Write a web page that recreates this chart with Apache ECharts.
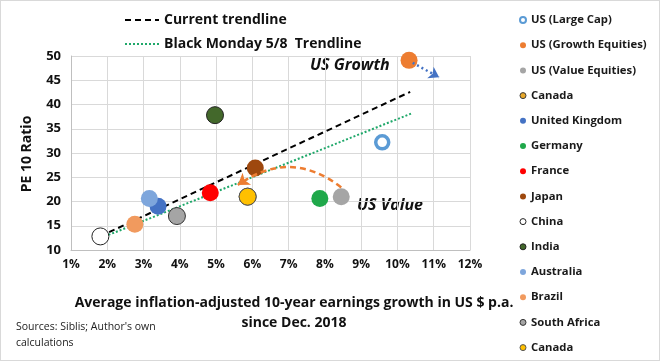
<!DOCTYPE html>
<html><head><meta charset="utf-8">
<script src="https://cdn.jsdelivr.net/npm/echarts@6/dist/echarts.min.js"></script>
<style>html,body{margin:0;padding:0;background:#fff}#c{width:660px;height:361px;box-sizing:border-box;border:1px solid #d9d9d9}</style>
</head><body><div id="c"></div>
<script>
var countries = ['US (Large Cap)','US (Growth Equities)','US (Value Equities)','Canada','United Kingdom','Germany','France','Japan','China','India','Australia','Brazil','South Africa','Canada '];
var growth = [9.58, 10.32, 8.45, 5.87, 3.40, 7.86, 4.84, 6.08, 1.81, 4.97, 3.16, 2.76, 3.92, 5.87];
var pe10   = [32.2, 49.1, 21.0, 21.0, 19.0, 20.6, 21.8, 26.9, 12.8, 37.8, 20.6, 15.3, 17.0, 21.0];
var fills  = ['#ffffff','#ED7D31','#A5A5A5','#E8A82A','#4472C4','#1FA84A','#FF0000','#9E480E','#ffffff','#43682B','#7EA6DC','#F19A5E','#A5A5A5','#FFC000'];
var borders= ['#5B9BD5',null,null,'#3a3a3a',null,null,null,null,'#222222','#222222',null,null,'#333333','#555555'];
var currentTrend = [[1.80, 12.8],[10.35, 42.6]];
var blackMondayTrend = [[1.93, 12.8],[10.40, 38.2]];
var usValueArrow = [[8.45, 22.9],[5.60, 23.4]];
var usGrowthArrow = [[10.42, 48.6],[11.15, 45.6]];
var xTicks = {min:1, max:12, interval:1};
var yTicks = {min:10, max:50, interval:5};

var chart = echarts.init(document.getElementById('c'));
var series = [];
series.push({name:'Current trendline', type:'line', data: currentTrend, symbol:'none', itemStyle:{color:'#000'}, lineStyle:{color:'#000', width:2, type:[6,4]}, z:3, silent:true});
series.push({name:'Black Monday 5/8  Trendline', type:'line', data: blackMondayTrend, symbol:'none', itemStyle:{color:'#1FA86A'}, lineStyle:{color:'#1FA86A', width:2, type:[2,2]}, z:3, silent:true});
countries.forEach(function(n,i){
  var isRing = i===0;
  series.push({name:n, type:'scatter', data:[[growth[i], pe10[i]]], symbolSize: isRing?13:17, z:4,
    itemStyle:{color: fills[i], borderColor: borders[i]||fills[i], borderWidth: isRing?3.5:(borders[i]?1:0), opacity:1}});
});
series.push({type:'lines', coordinateSystem:'cartesian2d', z:5, silent:true,
  data:[{coords: usValueArrow}], symbol:['none','arrow'], symbolSize:[1,11],
  lineStyle:{color:'#ED7D31', width:2.5, type:[6,4], curveness:-0.37, opacity:1}});
series.push({type:'lines', coordinateSystem:'cartesian2d', z:5, silent:true,
  data:[{coords: usGrowthArrow}], symbol:['none','arrow'], symbolSize:[1,10],
  lineStyle:{color:'#4472C4', width:2.5, type:[2,3], opacity:1}});

var legendItems = countries.map(function(n,i){
  return {name:n, itemStyle:{borderWidth: i===0?2:(borders[i]?1:0)}};
});
var legendText = {fontFamily:'Open Sans', fontWeight:'bold', fontSize:11.3, color:'#1a1a1a'};
chart.setOption({
  animation:false,
  textStyle:{fontFamily:'Open Sans'},
  grid:{left:70, right:189, top:55, bottom:110},
  legend:[
    {data:['Current trendline','Black Monday 5/8  Trendline'], orient:'vertical', left:118, top:7, itemWidth:34, itemHeight:10, itemGap:10,
     itemStyle:{opacity:0},
     textStyle:{fontFamily:'Open Sans', fontWeight:'bold', fontSize:14, color:'#111'}},
    {data: legendItems, orient:'vertical', left:513, top:7, itemWidth:6, itemHeight:6, itemGap:11.2, icon:'circle',
     textStyle: Object.assign({lineHeight:14}, legendText)}
  ],
  xAxis:{type:'value', min:xTicks.min, max:xTicks.max, interval:xTicks.interval,
    axisLine:{show:true, lineStyle:{color:'#bfbfbf'}}, axisTick:{show:false},
    splitLine:{show:true, lineStyle:{color:'#d9d9d9'}},
    axisLabel:{formatter:'{value}%', fontWeight:'bold', fontSize:12, color:'#111', margin:9}},
  yAxis:{type:'value', min:yTicks.min, max:yTicks.max, interval:yTicks.interval,
    axisLine:{show:true, lineStyle:{color:'#bfbfbf'}}, axisTick:{show:false},
    splitLine:{show:true, lineStyle:{color:'#d9d9d9'}},
    axisLabel:{fontWeight:'bold', fontSize:13, color:'#111', margin:10}},
  graphic:[
    {type:'text', left:309, top:56, style:{text:'US Growth', fontFamily:'Open Sans', fontWeight:'bold', fontStyle:'italic', fontSize:16, fill:'#111'}},
    {type:'text', left:356, top:196, style:{text:'US Value', fontFamily:'Open Sans', fontWeight:'bold', fontStyle:'italic', fontSize:16, fill:'#111'}},
    {type:'text', x:26, y:153, rotation:Math.PI/2, style:{text:'PE 10 Ratio', fontFamily:'Open Sans', fontWeight:'bold', fontSize:14, fill:'#111', align:'center', verticalAlign:'middle'}},
    {type:'text', x:293, y:302, style:{text:'Average inflation-adjusted 10-year earnings growth in US $ p.a.', fontFamily:'Open Sans', fontWeight:'bold', fontSize:14, fill:'#111', align:'center', verticalAlign:'middle'}},
    {type:'text', x:293, y:322, style:{text:'since Dec. 2018', fontFamily:'Open Sans', fontWeight:'bold', fontSize:14, fill:'#111', align:'center', verticalAlign:'middle'}},
    {type:'text', left:15, top:318, style:{text:"Sources: Siblis; Author's own\ncalculations", fontFamily:'Open Sans', fontSize:10.5, lineHeight:16, fill:'#222'}}
  ],
  series: series
});
</script></body></html>
